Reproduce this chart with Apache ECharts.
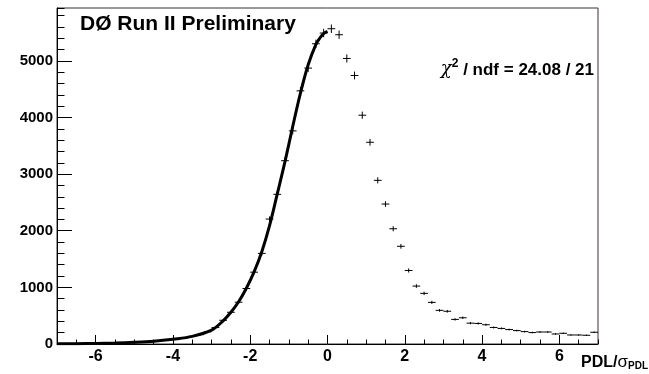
<!DOCTYPE html>
<html>
<head>
<meta charset="utf-8">
<script src="https://cdn.jsdelivr.net/npm/echarts@6/dist/echarts.min.js"></script>
<style>
  html, body { margin: 0; padding: 0; background: #fff; }
  #chart { width: 649px; height: 374px; }
</style>
</head>
<body>
<div id="chart"></div>
<script>
// PDL/sigma(PDL) histogram: bin width, bin centres and entries per bin
const binWidth = 0.2;
const binCenters = [
  -6.9, -6.7, -6.5, -6.3, -6.1, -5.9, -5.7, -5.5, -5.3, -5.1,
  -4.9, -4.7, -4.5, -4.3, -4.1, -3.9, -3.7, -3.5, -3.3, -3.1,
  -2.9, -2.7, -2.5, -2.3, -2.1, -1.9, -1.7, -1.5, -1.3, -1.1,
  -0.9, -0.7, -0.5, -0.3, -0.1, 0.1, 0.3, 0.5, 0.7, 0.9,
  1.1, 1.3, 1.5, 1.7, 1.9, 2.1, 2.3, 2.5, 2.7, 2.9,
  3.1, 3.3, 3.5, 3.7, 3.9, 4.1, 4.3, 4.5, 4.7, 4.9,
  5.1, 5.3, 5.5, 5.7, 5.9, 6.1, 6.3, 6.5, 6.7, 6.9
];
const binCounts = [
  3, 4, 6, 7, 9, 11, 14, 17, 22, 27,
  33, 41, 50, 62, 76, 92, 110, 135, 165, 215,
  290, 419, 560, 738, 980, 1268, 1600, 2206, 2643, 3237,
  3763, 4470, 4872, 5302, 5491, 5567, 5461, 5042, 4741, 4040,
  3562, 2890, 2471, 2035, 1725, 1298, 1023, 894, 735, 594,
  578, 434, 463, 368, 363, 340, 292, 275, 255, 237,
  219, 202, 212, 212, 177, 189, 159, 159, 154, 207
];

// Resolution-function fit on the negative side
const fitX = [-7, -6.5, -6, -5.5, -5, -4.5, -4, -3.5, -3, -2.7, -2.5, -2.3, -2.1, -1.9,
              -1.7, -1.5, -1.3, -1.1, -0.9, -0.7, -0.5, -0.3, -0.2, -0.1, 0];
const fitY = [3, 6, 10, 17, 30, 50, 85, 135, 245, 410, 560, 745, 985, 1275,
              1630, 2090, 2650, 3220, 3840, 4430, 4930, 5290, 5400, 5480, 5520];

// Axis ranges and labelled ticks
const xRange = [-7, 7];
const yRange = [0, 5933];
const xTickLabels = [-6, -4, -2, 0, 2, 4, 6];
const yTickLabels = [0, 1000, 2000, 3000, 4000, 5000];

const titleText = 'DØ Run II Preliminary';
const chi2Text = ' / ndf = 24.08 / 21';

const FONT = '"Liberation Sans", Arial, Helvetica, sans-serif';
const chart = echarts.init(document.getElementById('chart'), null, { renderer: 'canvas' });

const gridBox = { left: 57, right: 51, top: 8, bottom: 30 };

const histData = binCenters.map((x, i) => [x, binCounts[i]]);
const fitData = fitX.map((x, i) => [x, fitY[i]]);

const tickStyle = { color: '#000', width: 1 };

chart.setOption({
  animation: false,
  backgroundColor: '#ffffff',
  grid: [
    Object.assign({ show: true, borderColor: '#3a3232', borderWidth: 1, backgroundColor: 'transparent' }, gridBox),
    Object.assign({}, gridBox)
  ],
  xAxis: [
    { // minor ticks
      gridIndex: 0, type: 'value', min: xRange[0], max: xRange[1], interval: 0.5, position: 'bottom',
      axisLine: { show: false, onZero: false },
      axisTick: { show: true, inside: true, length: 4.5, lineStyle: tickStyle },
      axisLabel: { show: false }, splitLine: { show: false }
    },
    { // major ticks + labels
      gridIndex: 1, type: 'value', min: xRange[0], max: xRange[1], splitNumber: 7, position: 'bottom',
      axisLine: { show: true, onZero: false, lineStyle: { color: '#000', width: 1 } },
      axisTick: { show: true, inside: true, length: 9, lineStyle: tickStyle },
      axisLabel: {
        show: true, margin: 5, color: '#000', fontFamily: FONT, fontWeight: 'bold', fontSize: 16,
        showMinLabel: false, showMaxLabel: false,
        formatter: v => (xTickLabels.indexOf(v) >= 0 ? String(v) : '')
      },
      splitLine: { show: false }
    }
  ],
  yAxis: [
    { // minor ticks
      gridIndex: 0, type: 'value', min: yRange[0], max: yRange[1], interval: 200, position: 'left',
      axisLine: { show: false, onZero: false },
      axisTick: { show: true, inside: true, length: 7.5, lineStyle: tickStyle },
      axisLabel: { show: false }, splitLine: { show: false }
    },
    { // major ticks + labels
      gridIndex: 1, type: 'value', min: yRange[0], max: yRange[1], interval: 1000, position: 'left',
      axisLine: { show: true, onZero: false, lineStyle: { color: '#000', width: 1 } },
      axisTick: { show: true, inside: true, length: 15, lineStyle: tickStyle },
      axisLabel: {
        show: true, margin: 4, color: '#000', fontFamily: FONT, fontWeight: 'bold', fontSize: 15,
        showMaxLabel: false,
        formatter: v => (yTickLabels.indexOf(v) >= 0 ? String(v) : '')
      },
      splitLine: { show: false }
    }
  ],
  series: [
    {
      type: 'custom', xAxisIndex: 0, yAxisIndex: 0, z: 2,
      data: histData,
      renderItem: function (params, api) {
        const x = api.value(0);
        const y = api.value(1);
        const err = Math.sqrt(y);
        const l = api.coord([x - binWidth / 2, y]);
        const r = api.coord([x + binWidth / 2, y]);
        const lo = api.coord([x, Math.max(0, y - err)]);
        const hi = api.coord([x, y + err]);
        const st = { stroke: '#000', lineWidth: 1 };
        return {
          type: 'group',
          children: [
            { type: 'line', shape: { x1: l[0], y1: l[1], x2: r[0], y2: r[1] }, style: st },
            { type: 'line', shape: { x1: lo[0], y1: lo[1], x2: hi[0], y2: hi[1] }, style: st }
          ]
        };
      }
    },
    {
      type: 'line', xAxisIndex: 0, yAxisIndex: 0, z: 3,
      data: fitData, smooth: 0.35, symbol: 'none',
      lineStyle: { color: '#000', width: 3 }
    }
  ],
  graphic: [
    {
      type: 'text', x: 80, y: 24, z: 10,
      style: {
        text: titleText, fill: '#000', align: 'left', verticalAlign: 'middle',
        font: 'bold 21px ' + FONT
      }
    },
    {
      type: 'text', x: 594, y: 68, z: 10,
      style: {
        text: '{c|χ}{s|2}{t|' + chi2Text + '}',
        align: 'right', verticalAlign: 'middle',
        rich: {
          c: { fontFamily: '"DejaVu Serif", serif', fontStyle: 'italic', fontSize: 18, fill: '#000', verticalAlign: 'bottom', lineHeight: 21 },
          s: { fontFamily: FONT, fontWeight: 'bold', fontSize: 12, fill: '#000', verticalAlign: 'top', lineHeight: 21 },
          t: { fontFamily: FONT, fontWeight: 'bold', fontSize: 17, fill: '#000', verticalAlign: 'bottom', lineHeight: 21 }
        }
      }
    },
    {
      type: 'text', x: 648, y: 362, z: 10,
      style: {
        text: '{a|PDL/}{g|σ}{b|PDL}',
        align: 'right', verticalAlign: 'middle',
        rich: {
          a: { fontFamily: FONT, fontWeight: 'bold', fontSize: 16, fill: '#000', verticalAlign: 'bottom', lineHeight: 18 },
          g: { fontFamily: FONT, fontSize: 17, fill: '#000', verticalAlign: 'bottom', lineHeight: 18 },
          b: { fontFamily: FONT, fontWeight: 'bold', fontSize: 10, fill: '#000', verticalAlign: 'bottom', lineHeight: 14 }
        }
      }
    }
  ]
});
</script>
</body>
</html>
